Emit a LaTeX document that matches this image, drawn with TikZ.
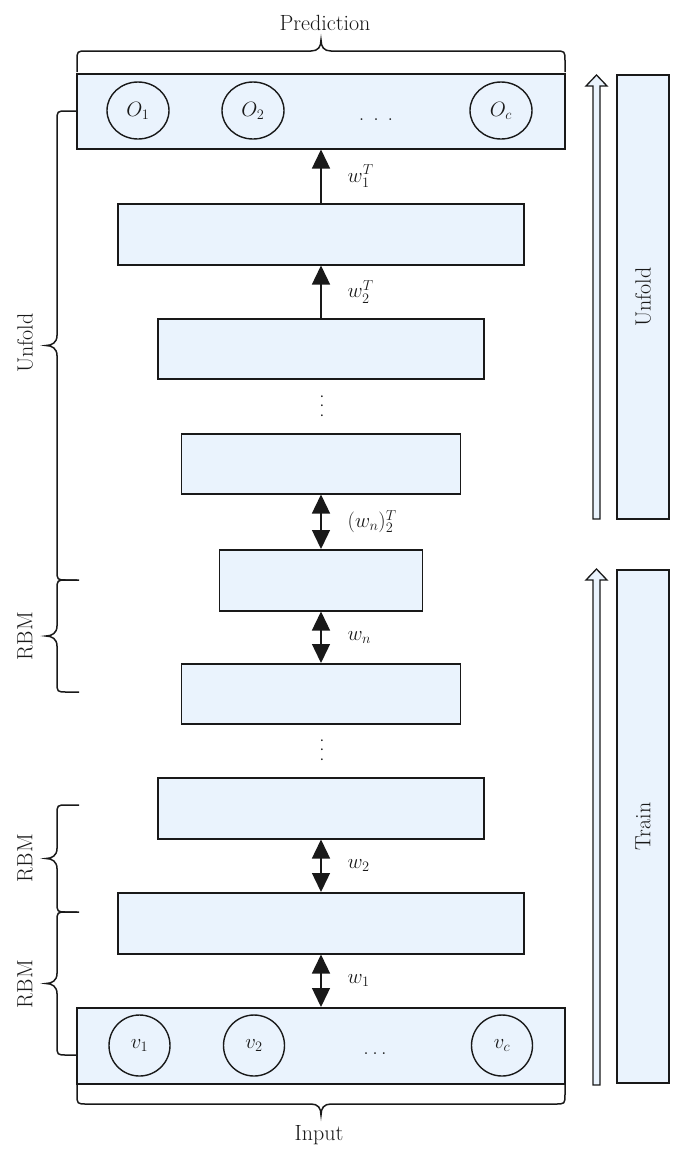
\documentclass[tikz,border=0pt]{standalone}
\usepackage{fontspec}
\usetikzlibrary{arrows.meta,shapes.geometric}
\definecolor{boxfill}{RGB}{234,243,253}
\definecolor{ink}{RGB}{25,25,25}
\newcommand{\LeftBrace}[3]{% y1, y2, x of ends
  \pgfmathsetmacro{\ym}{(#1+#2)/2}
  \draw[bracepath] (#3,#1) -- (67,#1) .. controls (57,#1) .. (57,#1+10)
    -- (57,\ym-10) .. controls (57,\ym-3) and (52,\ym) .. (46,\ym)
    .. controls (52,\ym) and (57,\ym+3) .. (57,\ym+10)
    -- (57,#2-10) .. controls (57,#2) .. (67,#2) -- (#3,#2);
}
\begin{document}
\begin{tikzpicture}[x=1pt,y=-1pt,
  every node/.style={font=\fontsize{22}{26}\selectfont, text=ink},
  layer/.style={draw=ink, fill=boxfill, line width=1.5pt, inner sep=0pt, anchor=north},
  unitE/.style={draw=ink, ellipse, line width=1.4pt, minimum width=62pt, minimum height=57pt, inner sep=0pt},
  unitC/.style={draw=ink, circle, line width=1.4pt, minimum size=61pt, inner sep=0pt},
  lbl/.style={anchor=west, inner sep=0pt, xshift=26pt},
  onearrow/.style={draw=ink, line width=1.4pt, -{Triangle[length=19pt,width=18pt]}},
  twoarrow/.style={draw=ink, line width=1.4pt, {Triangle[length=19pt,width=18pt]}-{Triangle[length=19pt,width=18pt]}},
  bracepath/.style={draw=ink, line width=1.5pt},
  hollow/.style={draw=ink, fill=boxfill, line width=1.3pt, line join=miter},
  sidebox/.style={draw=ink, fill=boxfill, line width=1.5pt, inner sep=0pt, rotate=90, minimum height=52pt},
  dotsbox/.style={inner sep=0pt},
]
\useasboundingbox (0,0) rectangle (684,1160);

% layers
\node[layer, minimum width=488pt, minimum height=75pt] (out) at (321,73) {};
\node[layer, minimum width=406pt, minimum height=61pt] (b2) at (321,203) {};
\node[layer, minimum width=326pt, minimum height=60pt] (b3) at (321,318) {};
\node[layer, minimum width=279pt, minimum height=60pt] (b4) at (321,433) {};
\node[layer, minimum width=203pt, minimum height=61pt] (b5) at (321,549) {};
\node[layer, minimum width=279pt, minimum height=60pt] (b6) at (321,663) {};
\node[layer, minimum width=326pt, minimum height=61pt] (b7) at (321,777) {};
\node[layer, minimum width=406pt, minimum height=61pt] (b8) at (321,892) {};
\node[layer, minimum width=488pt, minimum height=76pt] (in) at (321,1007) {};

% units
\node[unitE] (o1) at (138,110.5) {$O_1$};
\node[unitE] (o2) at (253,110.5) {$O_2$};
\node[unitE] (oc) at (501,110.5) {$O_c$};
\node[dotsbox, anchor=base] (odots) at (376,120) {.\kern9pt.\kern9pt.};
\node[unitC] (v1) at (139.5,1045.5) {$v_1$};
\node[unitC] (v2) at (254,1045.5) {$v_2$};
\node[unitC] (vc) at (502,1045.5) {$v_c$};
\node[dotsbox, anchor=base] (vdotsh) at (375,1054) {.\kern3.5pt.\kern3.5pt.};

% vertical dots
\node[dotsbox, rotate=90] (gap1) at (322,406) {.\kern4pt.\kern4pt.};
\node[dotsbox, rotate=90] (gap2) at (322,750) {.\kern4pt.\kern4pt.};

% connectors
\draw[onearrow] (b2.north) -- node[lbl] {$w_1^T$} (out.south);
\draw[onearrow] (b3.north) -- node[lbl] {$w_2^T$} (b2.south);
\draw[twoarrow] (b5.north) -- node[lbl] {$(w_n)_2^T$} (b4.south);
\draw[twoarrow] (b6.north) -- node[lbl] {$w_n$} (b5.south);
\draw[twoarrow] (b8.north) -- node[lbl] {$w_2$} (b7.south);
\draw[twoarrow] (in.north) -- node[lbl] {$w_1$} (b8.south);

% top and bottom braces
\draw[bracepath] (77,72) -- (77,61) .. controls (77,51) .. (87,51) -- (311,51)
  .. controls (318,51) and (321,47) .. (321,40)
  .. controls (321,47) and (324,51) .. (331,51) -- (555,51)
  .. controls (565,51) .. (565,61) -- (565,72);
\node (pred) at (325,23) {Prediction};
\draw[bracepath] (77,1084) -- (77,1094) .. controls (77,1104) .. (87,1104) -- (311,1104)
  .. controls (318,1104) and (321,1108) .. (321,1115)
  .. controls (321,1108) and (324,1104) .. (331,1104) -- (555,1104)
  .. controls (565,1104) .. (565,1094) -- (565,1084);
\node (inp) at (319,1135) {Input};

% left braces
\LeftBrace{111}{580}{77}
\LeftBrace{580}{692}{79}
\LeftBrace{805}{912}{79}
\LeftBrace{912}{1055}{77}
\node[rotate=90] (lunfold) at (25,343) {Unfold};
\node[rotate=90] (rbm1) at (25,636) {RBM};
\node[rotate=90] (rbm2) at (25,858) {RBM};
\node[rotate=90] (rbm3) at (25,984) {RBM};

% right side
\draw[hollow] (593,519) -- (593,86) -- (586,86) -- (596.5,75) -- (607,86) -- (600,86) -- (600,519) -- cycle;
\draw[hollow] (593,1085) -- (593,580) -- (586,580) -- (596.5,569) -- (607,580) -- (600,580) -- (600,1085) -- cycle;
\node[sidebox, minimum width=444pt] (runfold) at (643,297) {Unfold};
\node[sidebox, minimum width=513pt] (rtrain) at (643,826.5) {Train};
\end{tikzpicture}
\end{document}
